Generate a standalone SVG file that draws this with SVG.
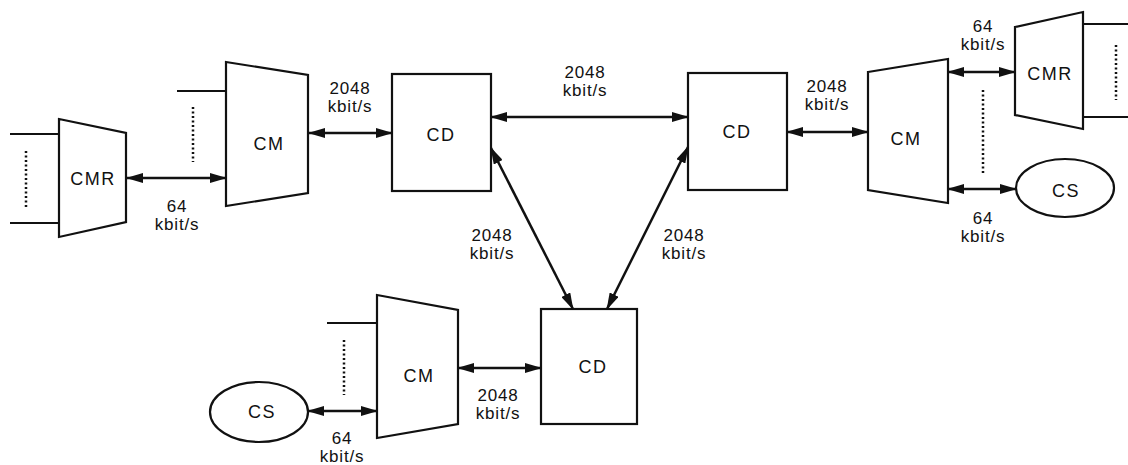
<svg xmlns="http://www.w3.org/2000/svg" width="1128" height="465" viewBox="0 0 1128 465">
<defs>
<marker id="ah" markerWidth="17" markerHeight="10" refX="16" refY="5" orient="auto-start-reverse" markerUnits="userSpaceOnUse">
<path d="M0,0 L17,5 L0,10 z" fill="#111"/>
</marker>
<style>
.n{fill:#fff;stroke:#111;stroke-width:2.2}
.t{font-family:"Liberation Sans",Arial,sans-serif;font-size:17px;fill:#111;text-anchor:middle;letter-spacing:0.8px}
.nt{font-size:18px;letter-spacing:1.5px}
.c{stroke:#111;stroke-width:2.5;fill:none;marker-start:url(#ah);marker-end:url(#ah)}
.l{stroke:#111;stroke-width:2;fill:none}
.d{stroke:#111;stroke-width:2.5;fill:none;stroke-dasharray:2 2.5}
</style>
</defs>
<rect width="1128" height="465" fill="#fff"/>
<g id="cmr-left">
<line class="l" x1="10" y1="134" x2="59" y2="134"/>
<line class="l" x1="10" y1="223" x2="59" y2="223"/>
<line class="d" x1="26" y1="151" x2="26" y2="207"/>
<polygon class="n" points="59,119 126,133 126,222 59,237"/>
<text class="t nt" x="93" y="185">CMR</text>
</g>
<g id="cm-left">
<line class="l" x1="177" y1="91" x2="226" y2="91"/>
<line class="d" x1="193" y1="107" x2="193" y2="162"/>
<polygon class="n" points="226,62 308,75 308,193 226,206"/>
<text class="t nt" x="269" y="150">CM</text>
</g>
<g id="cd-left">
<rect class="n" x="392" y="74" width="99" height="117"/>
<text class="t nt" x="441" y="141">CD</text>
</g>
<g id="cd-right">
<rect class="n" x="688" y="73" width="99" height="117"/>
<text class="t nt" x="737" y="138">CD</text>
</g>
<g id="cm-right">
<line class="d" x1="983" y1="90" x2="983" y2="173"/>
<polygon class="n" points="868,72 948,59 948,203 868,190"/>
<text class="t nt" x="906" y="145">CM</text>
</g>
<g id="cmr-right">
<line class="l" x1="1083" y1="24" x2="1128" y2="24"/>
<line class="l" x1="1083" y1="117" x2="1128" y2="117"/>
<line class="d" x1="1116" y1="45" x2="1116" y2="100"/>
<polygon class="n" points="1015,27 1083,12 1083,129 1015,115"/>
<text class="t nt" x="1050" y="80">CMR</text>
</g>
<g id="cs-right">
<ellipse class="n" cx="1065" cy="188" rx="49" ry="29"/>
<text class="t nt" x="1066" y="197">CS</text>
</g>
<g id="cd-bottom">
<rect class="n" x="541" y="309" width="96" height="115"/>
<text class="t nt" x="593" y="373">CD</text>
</g>
<g id="cm-bottom">
<line class="l" x1="327" y1="323" x2="377" y2="323"/>
<line class="d" x1="344" y1="340" x2="344" y2="395"/>
<polygon class="n" points="377,295 458,310 458,424 377,438"/>
<text class="t nt" x="419" y="382">CM</text>
</g>
<g id="cs-bottom">
<ellipse class="n" cx="259" cy="412" rx="49" ry="30"/>
<text class="t nt" x="262" y="418">CS</text>
</g>
<g id="connectors">
<line class="c" x1="127" y1="178" x2="226" y2="178"/>
<line class="c" x1="309" y1="133" x2="392" y2="133"/>
<line class="c" x1="491" y1="117" x2="688" y2="117"/>
<line class="c" x1="787" y1="132" x2="868" y2="132"/>
<line class="c" x1="948" y1="72" x2="1015" y2="72"/>
<line class="c" x1="948" y1="189" x2="1016" y2="189"/>
<line class="c" x1="491" y1="148" x2="573" y2="309"/>
<line class="c" x1="688" y1="147" x2="607" y2="309"/>
<line class="c" x1="458" y1="368" x2="541" y2="368"/>
<line class="c" x1="308" y1="411" x2="377" y2="411"/>
</g>
<g id="labels">
<text class="t" x="177" y="212">64</text><text class="t" x="177" y="230">kbit/s</text>
<text class="t" x="350" y="94">2048</text><text class="t" x="350" y="112">kbit/s</text>
<text class="t" x="585" y="78">2048</text><text class="t" x="585" y="96">kbit/s</text>
<text class="t" x="827" y="92">2048</text><text class="t" x="827" y="110">kbit/s</text>
<text class="t" x="983" y="32">64</text><text class="t" x="983" y="50">kbit/s</text>
<text class="t" x="983" y="224">64</text><text class="t" x="983" y="242">kbit/s</text>
<text class="t" x="492" y="241">2048</text><text class="t" x="492" y="259">kbit/s</text>
<text class="t" x="684" y="241">2048</text><text class="t" x="684" y="259">kbit/s</text>
<text class="t" x="498" y="401">2048</text><text class="t" x="498" y="419">kbit/s</text>
<text class="t" x="342" y="444">64</text><text class="t" x="342" y="462">kbit/s</text>
</g>
</svg>
